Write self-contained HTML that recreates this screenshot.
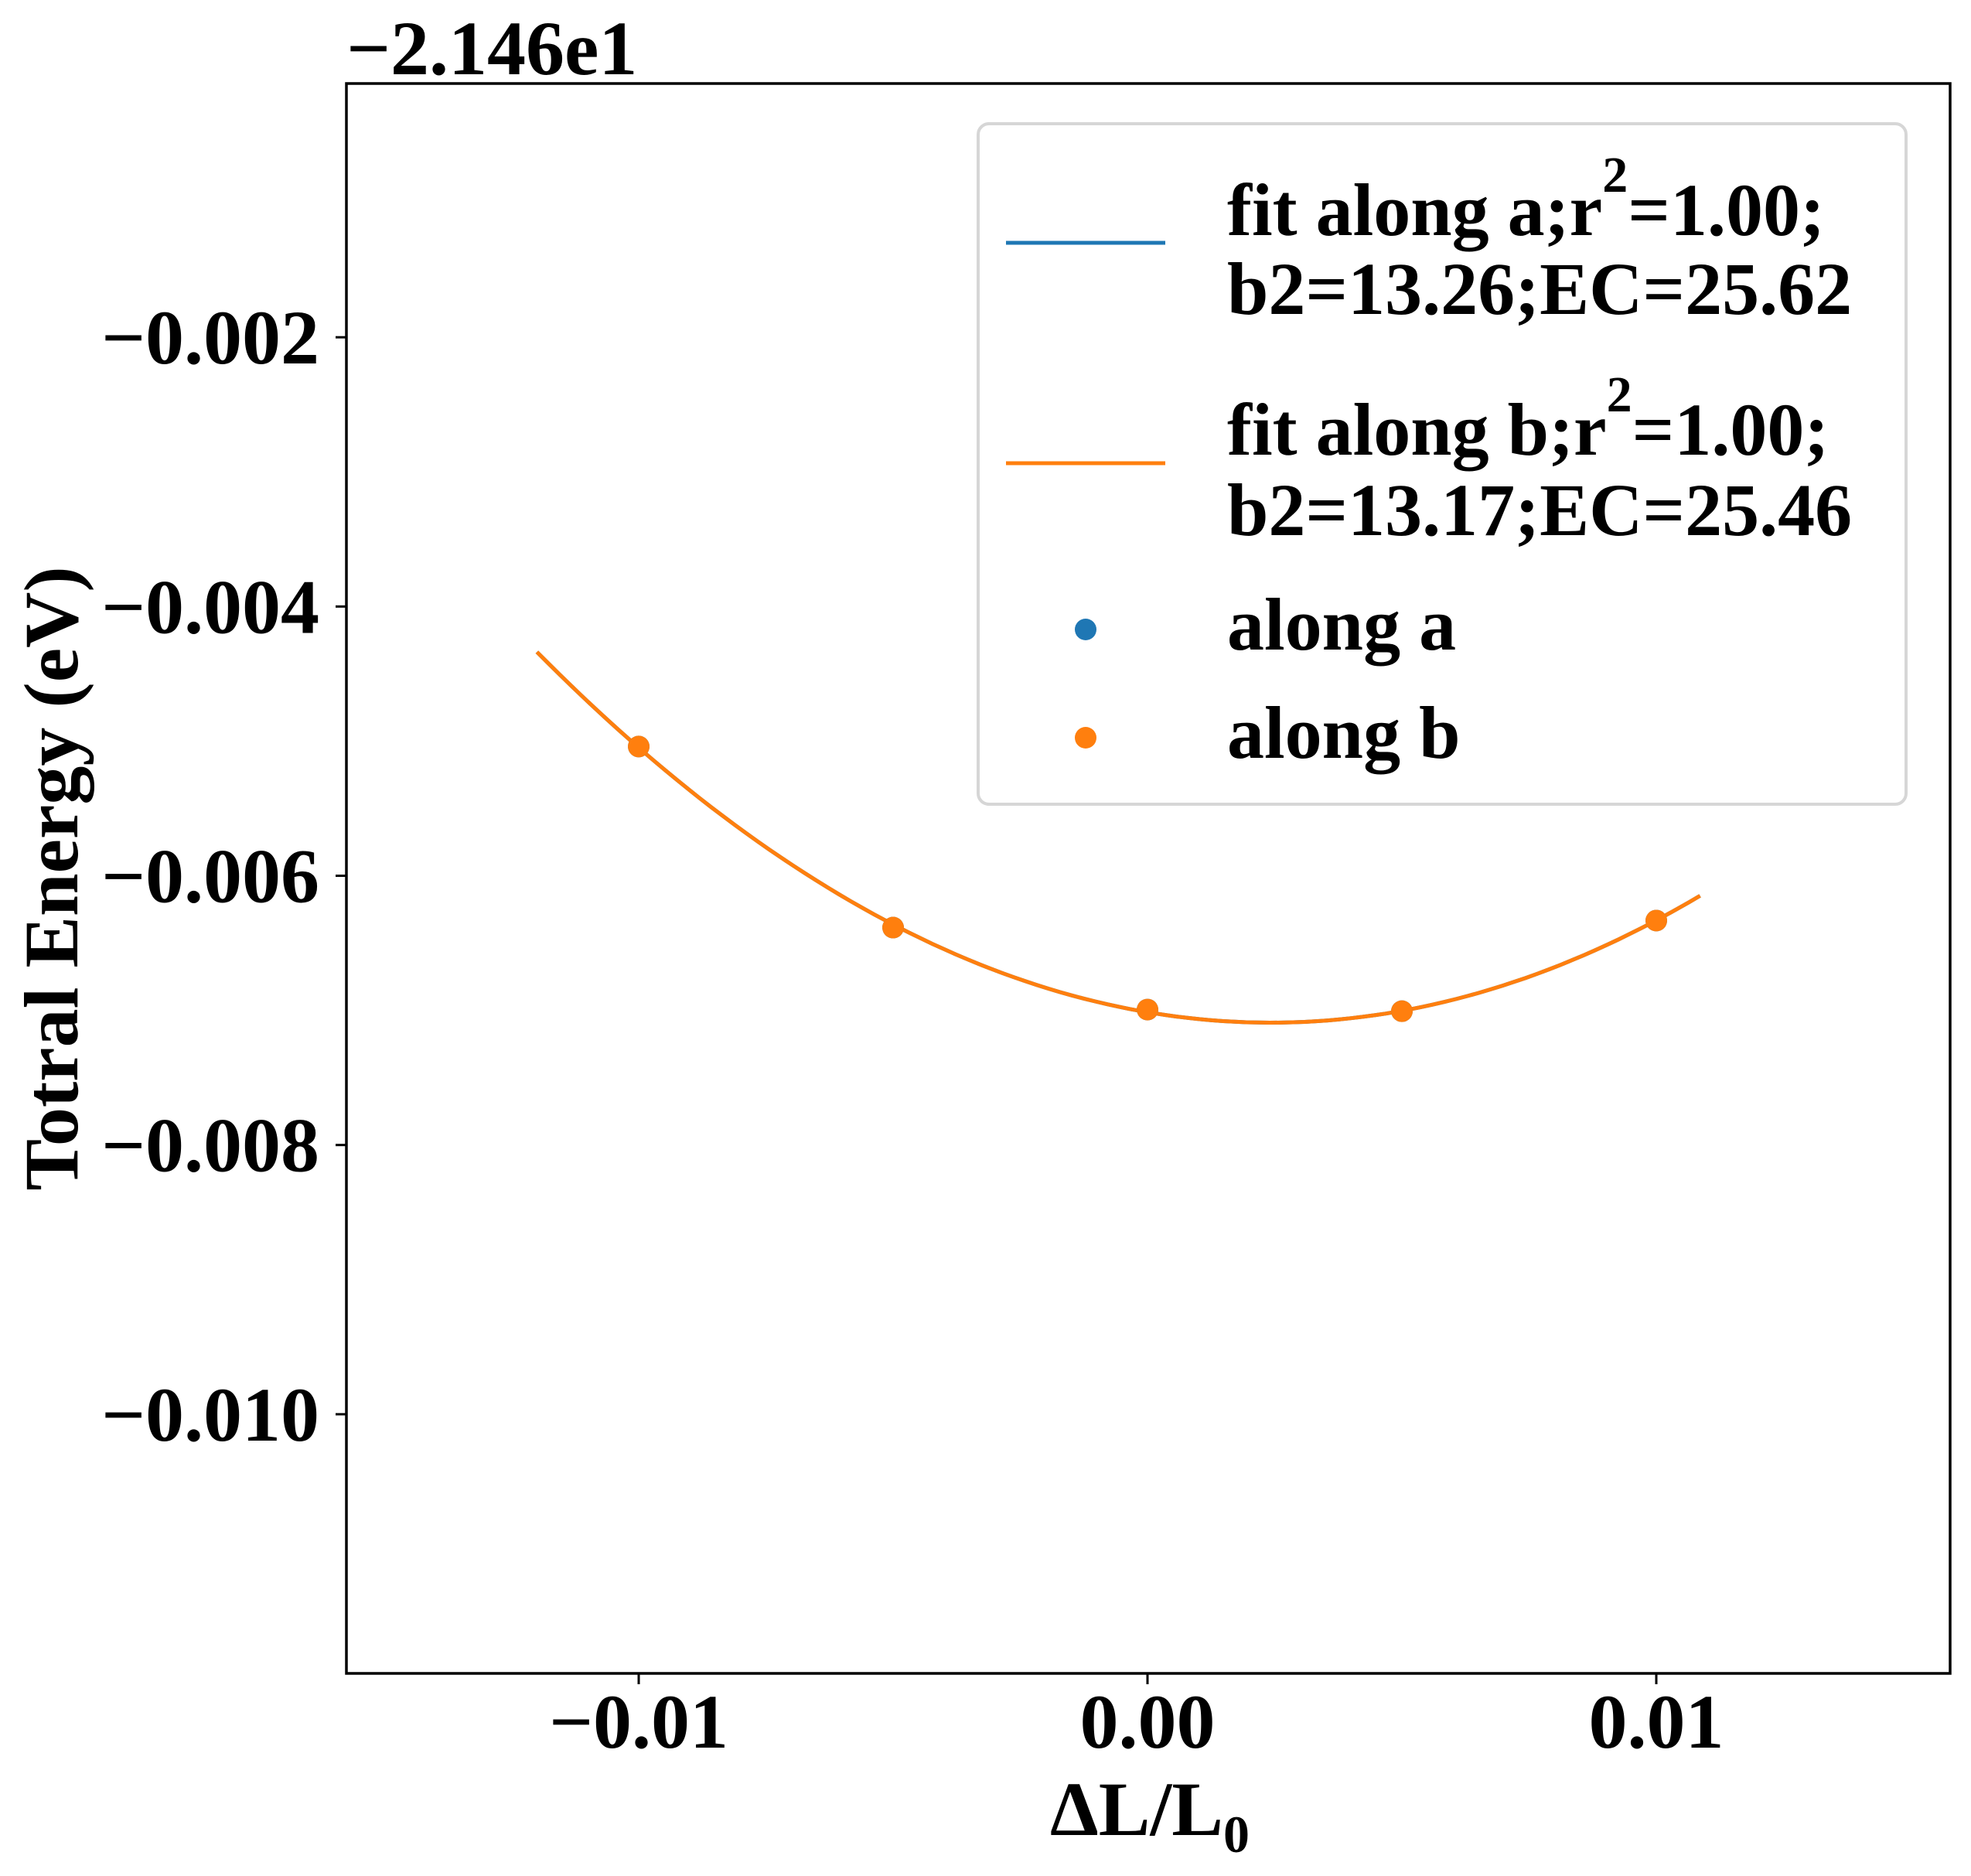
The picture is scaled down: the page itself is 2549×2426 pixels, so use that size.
<!DOCTYPE html>
<html><head><meta charset="utf-8"><style>
html,body{margin:0;padding:0;background:#fff;}
svg{display:block;font-family:"Liberation Serif","DejaVu Serif",serif;font-weight:bold;}
</style></head><body>
<svg id="chart" width="2549" height="2426" viewBox="0 0 2549 2426" xmlns="http://www.w3.org/2000/svg">
<rect width="2549" height="2426" fill="#fff"/>
<g id="plot"></g>
<text x="448" y="96" font-size="100">−2.146e1</text>
<text transform="translate(100,1136) rotate(-90)" text-anchor="middle" font-size="100">Totral Energy (eV)</text>
<text x="1487" y="2373" text-anchor="middle" font-size="100">ΔL/L<tspan font-size="68" dy="22">0</tspan></text>
<g>
<rect x="1265" y="160" width="1200" height="880" rx="14" fill="#fff" stroke="#d6d6d6" stroke-width="4"/>
<line x1="1301" y1="314" x2="1507" y2="314" stroke="#1f77b4" stroke-width="5"/>
<text x="1587" y="304" font-size="96">fit along a;r<tspan font-size="66" dy="-56">2</tspan><tspan dy="56">=1.00;</tspan></text>
<text x="1587" y="406" font-size="96">b2=13.26;EC=25.62</text>
<line x1="1301" y1="599" x2="1507" y2="599" stroke="#ff7f0e" stroke-width="5"/>
<text x="1587" y="588" font-size="96">fit along b;r<tspan font-size="66" dy="-56">2</tspan><tspan dy="56">=1.00;</tspan></text>
<text x="1587" y="692" font-size="96">b2=13.17;EC=25.46</text>
<circle cx="1404" cy="814" r="14" fill="#1f77b4"/>
<text x="1587" y="840" font-size="96">along a</text>
<circle cx="1404" cy="954" r="14" fill="#ff7f0e"/>
<text x="1587" y="980" font-size="96">along b</text>
</g>
</svg>
<script>
const xA = [-0.01, -0.005, 0.0, 0.005, 0.01];
const yA = [-0.00504, -0.006385, -0.006994, -0.007006, -0.006333];
const xB = [-0.01, -0.005, 0.0, 0.005, 0.01];
const yB = [-0.00504, -0.006385, -0.006994, -0.007006, -0.006333];
const fitRange = [-0.0120, 0.01086];
const xTicks = [-0.01, 0.0, 0.01];
const xTickLabels = ["−0.01", "0.00", "0.01"];
const yTicks = [-0.002, -0.004, -0.006, -0.008, -0.010];
const yTickLabels = ["−0.002", "−0.004", "−0.006", "−0.008", "−0.010"];

const L=448,R=2522,T=108,B=2164;
const xMin=-0.015745,xMax=0.015775,yMin=-0.011925,yMax=-0.000115;
const sx=v=>L+(v-xMin)/(xMax-xMin)*(R-L);
const sy=v=>B-(v-yMin)/(yMax-yMin)*(B-T);
const NS="http://www.w3.org/2000/svg";
const g=document.getElementById('plot');
function mk(t,a){const e=document.createElementNS(NS,t);for(const k in a)e.setAttribute(k,a[k]);g.appendChild(e);return e;}

function quadFit(xs,ys){
  let n=xs.length,s=[0,0,0,0,0],t=[0,0,0];
  for(let i=0;i<n;i++){let p=1;for(let k=0;k<5;k++){s[k]+=p;if(k<3)t[k]+=p*ys[i];p*=xs[i];}}
  const M=[[s[0],s[1],s[2],t[0]],[s[1],s[2],s[3],t[1]],[s[2],s[3],s[4],t[2]]];
  for(let i=0;i<3;i++){for(let j=i+1;j<3;j++){const f=M[j][i]/M[i][i];for(let k=i;k<4;k++)M[j][k]-=f*M[i][k];}}
  const c=[0,0,0];
  for(let i=2;i>=0;i--){let v=M[i][3];for(let k=i+1;k<3;k++)v-=M[i][k]*c[k];c[i]=v/M[i][i];}
  return c;
}
function drawFit(xs,ys,color,name){
  const c=quadFit(xs,ys);let d="";
  for(let i=0;i<=100;i++){const x=fitRange[0]+(fitRange[1]-fitRange[0])*i/100;const y=c[0]+c[1]*x+c[2]*x*x;d+=(i?"L":"M")+sx(x).toFixed(1)+","+sy(y).toFixed(1);}
  const p=mk('path',{d:d,fill:'none',stroke:color,'stroke-width':5});
  
  
}
drawFit(xA,yA,'#1f77b4','fit-line-a');
drawFit(xB,yB,'#ff7f0e','fit-line-b');
xA.forEach((x,i)=>{const c=mk('circle',{cx:sx(x),cy:sy(yA[i]),r:14,fill:'#1f77b4'});

});
xB.forEach((x,i)=>{const c=mk('circle',{cx:sx(x),cy:sy(yB[i]),r:14,fill:'#ff7f0e'});

});

const fr=mk('rect',{x:L,y:T,width:R-L,height:B-T,fill:'none',stroke:'#000','stroke-width':3.5});


xTicks.forEach((v,i)=>{
  const tk=mk('line',{x1:sx(v),y1:B,x2:sx(v),y2:B+14,stroke:'#000','stroke-width':3});
  
  
  const t=mk('text',{x:sx(v),y:2260,'text-anchor':'middle','font-size':100});
  t.textContent=xTickLabels[i];
  
  
});
yTicks.forEach((v,i)=>{
  const tk=mk('line',{x1:L-14,y1:sy(v),x2:L,y2:sy(v),stroke:'#000','stroke-width':3});
  
  
  const t=mk('text',{x:L-35,y:sy(v)+34,'text-anchor':'end','font-size':100});
  t.textContent=yTickLabels[i];
  
  
});
</script>
</body></html>
